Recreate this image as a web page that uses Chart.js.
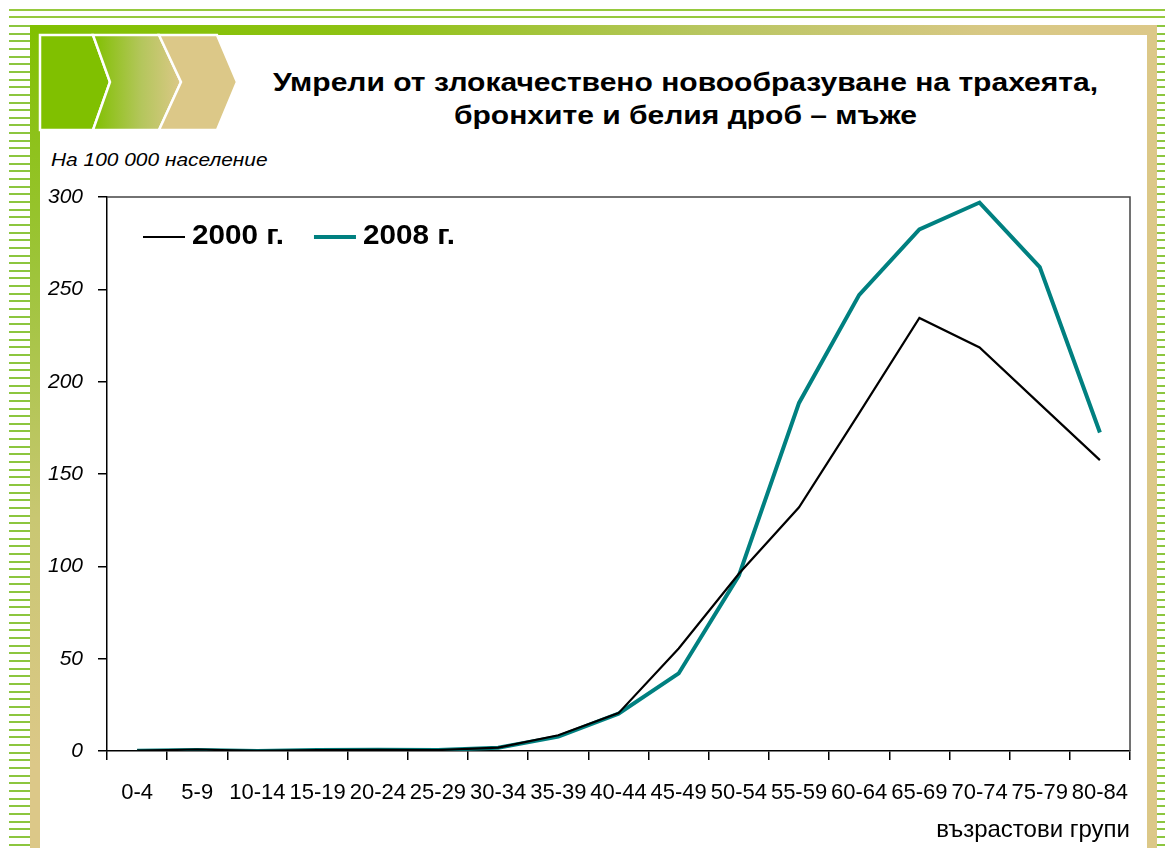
<!DOCTYPE html>
<html>
<head>
<meta charset="utf-8">
<script src="https://cdn.jsdelivr.net/npm/chart.js@4"></script>
<style>
  body { margin:0; background:#fff; width:1165px; height:848px; overflow:hidden; position:relative; font-family:"Liberation Sans", Arial, sans-serif; }
  .hline { position:absolute; left:9px; right:0; height:2px; background:#96c93e; }
  .stripes { position:absolute; top:25px; bottom:0; background:repeating-linear-gradient(to bottom, #8cc63f 0px, #8cc63f 2px, #fff 2px, #fff 7.65px); }
  .bar { position:absolute; }
  #title { position:absolute; left:237px; width:897px; top:66px; text-align:center; font-weight:bold; font-size:26px; line-height:33px; color:#000; transform:scaleX(1.155); transform-origin:448.5px 0; }
  #unit { position:absolute; left:51px; top:150px; font-style:italic; font-size:19px; line-height:19px; color:#000; transform:scaleX(1.1); transform-origin:0 0; }
  #wrap { position:absolute; left:40px; top:140px; width:1107px; height:708px; }
</style>
</head>
<body>
<div class="hline" style="top:9px"></div>
<div class="hline" style="top:16px"></div>
<div class="stripes" style="left:9px;width:21px"></div>
<div class="stripes" style="left:1157px;width:8px"></div>
<div class="bar" style="left:30px;top:25px;width:1127px;height:10px;background:linear-gradient(to right,#80c000 0%,#8ec214 30%,#b8c660 60%,#d8c885 85%,#dcc888 100%)"></div>
<div class="bar" style="left:30px;top:25px;width:10px;bottom:0;background:linear-gradient(to bottom,#80c000 0%,#9ec43a 30%,#c9c772 60%,#dcc888 90%)"></div>
<div class="bar" style="left:1147px;top:25px;width:10px;bottom:0;background:#dcc888"></div>
<svg style="position:absolute;left:0;top:0" width="260" height="140">
  <defs>
    <linearGradient id="g2" x1="93" y1="0" x2="181" y2="0" gradientUnits="userSpaceOnUse">
      <stop offset="0" stop-color="#80c000"/>
      <stop offset="0.55" stop-color="#b4c65c"/>
      <stop offset="1" stop-color="#dcc888"/>
    </linearGradient>
  </defs>
  <g stroke="#fff" stroke-width="2.5" stroke-linejoin="miter">
    <polygon points="40,35 93,35 110,82 93,130 40,130" fill="#80c000"/>
    <polygon points="93,35 159,35 181,82 159,130 93,130 110,82" fill="url(#g2)"/>
    <polygon points="159,35 217,35 237,82 217,130 159,130 181,82" fill="#dcc888"/>
  </g>
</svg>
<div id="title">Умрели от злокачествено новообразуване на трахеята,<br>бронхите и белия дроб – мъже</div>
<div id="unit">На 100 000 население</div>
<div id="wrap"><canvas id="myChart" width="1107" height="708"></canvas></div>
<script>
const ageGroups = ['0-4','5-9','10-14','15-19','20-24','25-29','30-34','35-39','40-44','45-49','50-54','55-59','60-64','65-69','70-74','75-79','80-84'];
const men2000 = [0.2, 0.8, 0.1, 0.5, 0.6, 0.5, 1.8, 8.5, 20.5, 55.5, 96, 132, 183, 234.5, 218.5, 188, 157.5];
const men2008 = [0.1, 0.5, 0.0, 0.5, 0.7, 0.6, 1.8, 7.8, 20.2, 42, 95, 188.5, 247, 282.5, 297, 262, 172.5];
const seriesNames = ['2000 г.', '2008 г.'];
const yTicks = [0, 50, 100, 150, 200, 250, 300];

const fontMain = '"Liberation Sans", Arial, sans-serif';

// legend drawn inside the plot, top left
const insideLegend = {
  id: 'insideLegend',
  afterDraw(chart) {
    const ctx = chart.ctx;
    const area = chart.chartArea;
    const sx = 1.1;
    let x = area.left + 36;
    const y = area.top + 40;
    ctx.save();
    ctx.font = 'bold 27px ' + fontMain;
    ctx.textBaseline = 'middle';
    ctx.fillStyle = '#000';
    chart.data.datasets.forEach(function(ds) {
      ctx.strokeStyle = ds.borderColor;
      ctx.lineWidth = ds.borderWidth;
      ctx.beginPath();
      ctx.moveTo(x, y);
      ctx.lineTo(x + 42, y);
      ctx.stroke();
      ctx.save();
      ctx.translate(x + 49, y);
      ctx.scale(sx, 1);
      ctx.fillText(ds.label, 0, 0);
      ctx.restore();
      x += 49 + ctx.measureText(ds.label).width * sx + 30;
    });
    ctx.restore();
  }
};

// top and right edges of the plot box
const plotBox = {
  id: 'plotBox',
  beforeDatasetsDraw(chart) {
    const ctx = chart.ctx;
    const a = chart.chartArea;
    ctx.save();
    ctx.strokeStyle = '#444';
    ctx.lineWidth = 1.5;
    ctx.beginPath();
    ctx.moveTo(a.left, a.top);
    ctx.lineTo(a.right, a.top);
    ctx.lineTo(a.right, a.bottom);
    ctx.stroke();
    ctx.restore();
  }
};

const config = {
  type: 'line',
  data: {
    labels: ageGroups,
    datasets: [{
      label: seriesNames[0],
      data: men2000,
      borderColor: '#000000',
      borderWidth: 2.2,
      pointRadius: 0,
      tension: 0,
      fill: false
    }, {
      label: seriesNames[1],
      data: men2008,
      borderColor: '#008080',
      borderWidth: 4,
      pointRadius: 0,
      tension: 0,
      fill: false
    }]
  },
  options: {
    responsive: false,
    animation: false,
    layout: { padding: { left: 0, right: 17, top: 57, bottom: 0 } },
    plugins: {
      legend: { display: false },
      title: { display: false },
      tooltip: { enabled: false }
    },
    scales: {
      x: {
        offset: true,
        grid: { offset: true, drawOnChartArea: false, drawTicks: true, tickLength: 9, color: '#000', lineWidth: 1.5 },
        border: { color: '#000', width: 1.5 },
        ticks: {
          autoSkip: false, maxRotation: 0, minRotation: 0, padding: 20, color: '#000',
          font: { family: fontMain, size: 22 }
        },
        title: {
          display: true, text: 'възрастови групи', align: 'end', color: '#000',
          font: { family: fontMain, size: 24 }, padding: { top: 0, bottom: 3 }
        },
        afterFit(s) { s.height = 97; s.paddingRight = 0; s.paddingLeft = 0; }
      },
      y: {
        min: 0,
        max: 300,
        afterBuildTicks(s) { s.ticks = yTicks.map(v => ({ value: v })); },
        grid: { drawOnChartArea: false, drawTicks: true, tickLength: 9, color: '#000', lineWidth: 1.5 },
        border: { color: '#000', width: 1.5 },
        ticks: {
          padding: 15, color: '#000',
          font: { family: fontMain, size: 21, style: 'italic' }
        },
        afterFit(s) { s.width = 67; s.paddingTop = 0; s.paddingBottom = 0; }
      }
    }
  },
  plugins: [plotBox, insideLegend]
};

var myChart = new Chart(document.getElementById('myChart'), config);
</script>
</body>
</html>
